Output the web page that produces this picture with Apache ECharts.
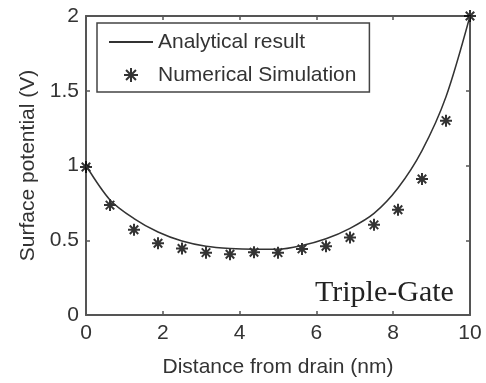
<!DOCTYPE html>
<html>
<head>
<meta charset="utf-8">
<script src="https://cdn.jsdelivr.net/npm/echarts@6/dist/echarts.min.js"></script>
<style>
  html, body { margin: 0; padding: 0; background: #fff; }
  #chart { width: 486px; height: 383px; }
</style>
</head>
<body>
<div id="chart"></div>
<script>
// distance from drain (nm), sampled every 0.625 nm
const positions = [0, 0.625, 1.25, 1.875, 2.5, 3.125, 3.75, 4.375, 5, 5.625, 6.25, 6.875, 7.5, 8.125, 8.75, 9.375, 10];
const analytical = [1.0, 0.77, 0.645, 0.555, 0.495, 0.46, 0.445, 0.44, 0.44, 0.465, 0.51, 0.58, 0.68, 0.85, 1.1, 1.46, 2.0];
const numerical = [0.99, 0.735, 0.57, 0.48, 0.445, 0.417, 0.406, 0.42, 0.417, 0.442, 0.46, 0.518, 0.603, 0.704, 0.91, 1.3, 2.0];
const xTicks = [0, 2, 4, 6, 8, 10];
const yTicks = [0, 0.5, 1, 1.5, 2];

const FONT = "Liberation Sans";
const TEXT = "#333";
const AXIS = "#555";

const asterisk = "path://M0,-10L0,10M-10,0L10,0M-7.07,-7.07L7.07,7.07M-7.07,7.07L7.07,-7.07";

function frameAxis(extra) {
  return Object.assign({
    type: "value",
    axisLine: { show: true, onZero: false, lineStyle: { color: AXIS, width: 2 } },
    axisTick: { show: true, inside: true, length: 4, lineStyle: { color: AXIS, width: 1.5 } },
    splitLine: { show: false },
  }, extra);
}

const chart = echarts.init(document.getElementById("chart"), null, { renderer: "canvas" });

chart.setOption({
  backgroundColor: "#fff",
  animation: false,
  textStyle: { fontFamily: FONT, color: TEXT },
  grid: { left: 86, right: 16, top: 16, bottom: 65 },
  legend: {
    left: 97,
    top: 23,
    orient: "vertical",
    padding: [8, 13, 6, 11],
    itemGap: 11,
    itemWidth: 44,
    itemHeight: 14,
    borderColor: "#444",
    borderWidth: 1.5,
    backgroundColor: "#fff",
    textStyle: { fontFamily: FONT, fontSize: 21, color: TEXT, lineHeight: 22 },
    data: [
      { name: "Analytical result", itemStyle: { color: "rgba(0,0,0,0)", borderWidth: 0 } },
      "Numerical Simulation",
    ],
  },
  xAxis: [
    frameAxis({
      position: "bottom",
      min: xTicks[0],
      max: xTicks[xTicks.length - 1],
      interval: 2,
      name: "Distance from drain (nm)",
      nameLocation: "middle",
      nameGap: 42,
      nameTextStyle: { fontFamily: FONT, fontSize: 21, color: TEXT },
      axisLabel: { fontFamily: FONT, fontSize: 21, color: TEXT, margin: 8 },
    }),
    frameAxis({
      position: "top",
      min: xTicks[0],
      max: xTicks[xTicks.length - 1],
      interval: 2,
      axisLabel: { show: false },
    }),
  ],
  yAxis: [
    frameAxis({
      position: "left",
      min: yTicks[0],
      max: yTicks[yTicks.length - 1],
      interval: 0.5,
      name: "Surface potential (V)",
      nameLocation: "middle",
      nameGap: 47,
      nameTextStyle: { fontFamily: FONT, fontSize: 21, color: TEXT },
      axisLabel: { fontFamily: FONT, fontSize: 21, color: TEXT, margin: 7 },
    }),
    frameAxis({
      position: "right",
      min: yTicks[0],
      max: yTicks[yTicks.length - 1],
      interval: 0.5,
      axisLabel: { show: false },
    }),
  ],
  graphic: [
    {
      type: "text",
      left: 315,
      top: 278,
      style: { text: "Triple-Gate", font: '30px "Liberation Serif"', fill: "#222" },
    },
  ],
  series: [
    {
      name: "Analytical result",
      type: "line",
      smooth: 0.3,
      symbol: "circle",
      showSymbol: false,
      lineStyle: { color: "#333", width: 1.5 },
      itemStyle: { color: "rgba(0,0,0,0)" },
      data: positions.map((x, i) => [x, analytical[i]]),
    },
    {
      name: "Numerical Simulation",
      type: "scatter",
      symbol: asterisk,
      symbolSize: 12,
      itemStyle: { color: "transparent", borderColor: "#000", borderWidth: 2 },
      data: positions.map((x, i) => [x, numerical[i]]),
    },
  ],
});
</script>
</body>
</html>
